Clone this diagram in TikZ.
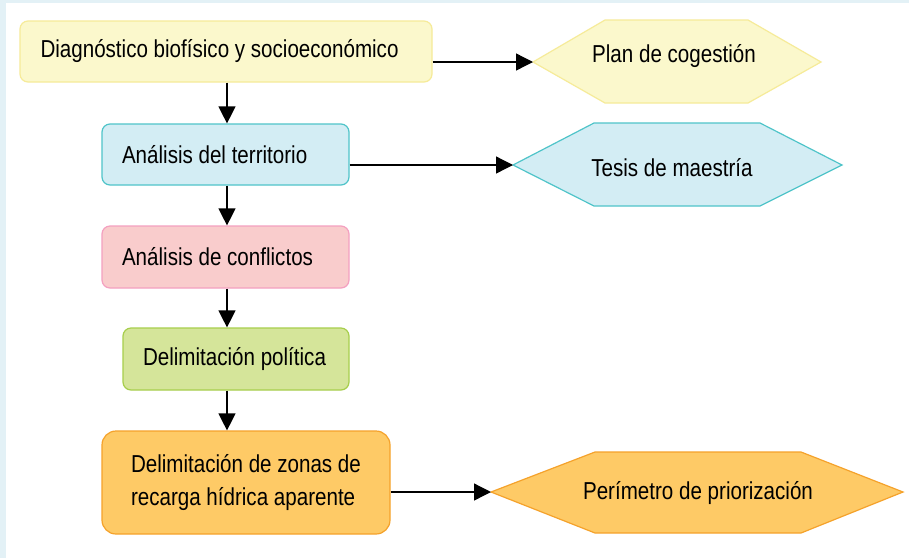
\documentclass[tikz,border=0pt]{standalone}
\usepackage{fontspec}
\setmainfont{Liberation Sans}[FakeStretch=0.84]
\usetikzlibrary{arrows.meta}
\definecolor{bgstrip}{HTML}{E3F1F6}
\definecolor{yfill}{HTML}{FBF8CC}
\definecolor{ydraw}{HTML}{F6EB99}
\definecolor{bfill}{HTML}{D3EDF4}
\definecolor{bdraw}{HTML}{4FC4C9}
\definecolor{pfill}{HTML}{F9CCCC}
\definecolor{pdraw}{HTML}{F4A0C0}
\definecolor{gfill}{HTML}{D5E59A}
\definecolor{gdraw}{HTML}{A7CE4C}
\definecolor{ofill}{HTML}{FECA66}
\definecolor{odraw}{HTML}{F5A22B}
\tikzset{
  txt/.style={font=\fontsize{24.5}{28}\selectfont},
  box/.style={txt, draw, rounded corners=8pt, line width=1.2pt, inner xsep=20pt, inner ysep=0pt, align=flush left},
  hexa/.style={line width=1.2pt, line join=miter},
  arr/.style={line width=1.3pt, -{Triangle[length=17pt,width=17pt]}},
}
\begin{document}
\begin{tikzpicture}[x=1pt,y=-1pt]
\useasboundingbox (0,0) rectangle (909,558);
\fill[bgstrip] (0,0) rectangle (909,558);
\fill[white] (6,3) rectangle (909,558);

% boxes
\node[box, fill=yfill, draw=ydraw, text width=371pt, inner xsep=20.5pt, minimum height=61pt] (b1) at (226,51.5) {Diagnóstico biofísico y socioeconómico};
\node[box, fill=bfill, draw=bdraw, text width=207pt, minimum height=61pt] (b2) at (225.5,154.5) {Análisis del territorio};
\node[box, fill=pfill, draw=pdraw, text width=207pt, minimum height=62pt] (b3) at (225.5,257) {Análisis de conflictos};
\node[box, fill=gfill, draw=gdraw, text width=186pt, minimum height=62pt] (b4) at (236,359) {Delimitación política};
\node[box, fill=ofill, draw=odraw, rounded corners=14pt, text width=230pt, inner xsep=29pt, minimum height=103pt] (b5) at (246,482.5) {\vspace*{5pt}Delimitación de zonas de\\recarga hídrica aparente};

% hexagons
\draw[hexa, fill=yfill, draw=ydraw] (533,62) -- (605,20) -- (748,20) -- (821,62) -- (748,103) -- (605,103) -- cycle;
\coordinate (h1w) at (533,62);
\node[txt] (h1) at (674,56) {Plan de cogestión};

\draw[hexa, fill=bfill, draw=bdraw] (513,165) -- (594,123) -- (760,123) -- (842,165) -- (760,206) -- (594,206) -- cycle;
\coordinate (h2w) at (513,165);
\node[txt] (h2) at (672,168) {Tesis de maestría};

\draw[hexa, fill=ofill, draw=odraw] (491,492) -- (595,452) -- (801,452) -- (903,492) -- (801,533) -- (595,533) -- cycle;
\coordinate (h3w) at (491,492);
\node[txt] (h3) at (698,493) {Perímetro de priorización};

% connectors
\coordinate (ax) at (227,0);
\draw[arr] (b1.south -| ax) -- (b2.north -| ax);
\draw[arr] (b2.south -| ax) -- (b3.north -| ax);
\draw[arr] (b3.south -| ax) -- (b4.north -| ax);
\draw[arr] (b4.south -| ax) -- (b5.north -| ax);
\draw[arr] (b1.east |- h1w) -- (h1w);
\draw[arr] (b2.east |- h2w) -- (h2w);
\draw[arr] (b5.east |- h3w) -- (h3w);
\end{tikzpicture}
\end{document}
